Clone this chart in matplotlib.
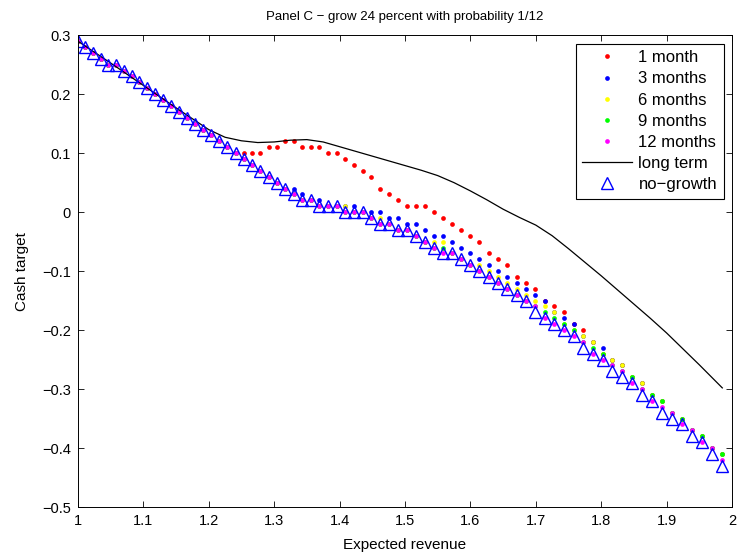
import matplotlib
matplotlib.use("Agg")
import matplotlib.pyplot as plt
from matplotlib.ticker import FuncFormatter

plt.rcParams["font.family"] = ["Liberation Sans", "DejaVu Sans"]
plt.rcParams["font.size"] = 10

# expected revenue grid
x = [1.0000, 1.0116, 1.0232, 1.0349, 1.0466, 1.0584, 1.0703, 1.0821, 1.0941, 1.1060,
     1.1181, 1.1301, 1.1423, 1.1544, 1.1667, 1.1790, 1.1913, 1.2037, 1.2161, 1.2286,
     1.2411, 1.2537, 1.2663, 1.2790, 1.2918, 1.3045, 1.3174, 1.3303, 1.3432, 1.3563,
     1.3693, 1.3824, 1.3956, 1.4088, 1.4221, 1.4354, 1.4488, 1.4623, 1.4758, 1.4893,
     1.5029, 1.5166, 1.5303, 1.5441, 1.5579, 1.5718, 1.5858, 1.5998, 1.6138, 1.6280,
     1.6421, 1.6564, 1.6707, 1.6850, 1.6995, 1.7139, 1.7285, 1.7431, 1.7577, 1.7724,
     1.7872, 1.8021, 1.8170, 1.8319, 1.8469, 1.8620, 1.8772, 1.8924, 1.9077, 1.9230,
     1.9384, 1.9539, 1.9694, 1.9850]

no_growth = [0.29, 0.28, 0.27, 0.26, 0.25, 0.25, 0.24, 0.23, 0.22, 0.21,
             0.20, 0.19, 0.18, 0.17, 0.16, 0.15, 0.14, 0.13, 0.12, 0.11,
             0.10, 0.09, 0.08, 0.07, 0.06, 0.05, 0.04, 0.03, 0.02, 0.02,
             0.01, 0.01, 0.01, 0.00, 0.00, 0.00, -0.01, -0.02, -0.02, -0.03,
             -0.03, -0.04, -0.05, -0.06, -0.07, -0.07, -0.08, -0.09, -0.10, -0.11,
             -0.12, -0.13, -0.14, -0.15, -0.17, -0.18, -0.19, -0.20, -0.21, -0.23,
             -0.24, -0.25, -0.27, -0.28, -0.29, -0.31, -0.32, -0.34, -0.35, -0.36,
             -0.38, -0.39, -0.41, -0.43]

m12 = [0.29, 0.28, 0.27, 0.26, 0.25, 0.25, 0.24, 0.23, 0.22, 0.21,
       0.20, 0.19, 0.18, 0.17, 0.16, 0.15, 0.14, 0.13, 0.12, 0.11,
       0.10, 0.09, 0.08, 0.07, 0.06, 0.05, 0.04, 0.03, 0.02, 0.02,
       0.01, 0.01, 0.01, 0.00, 0.00, 0.00, -0.01, -0.02, -0.02, -0.03,
       -0.03, -0.04, -0.05, -0.06, -0.07, -0.07, -0.08, -0.09, -0.10, -0.11,
       -0.12, -0.13, -0.14, -0.15, -0.16, -0.18, -0.19, -0.20, -0.21, -0.22,
       -0.24, -0.25, -0.26, -0.27, -0.29, -0.30, -0.32, -0.33, -0.34, -0.36,
       -0.37, -0.39, -0.40, -0.42]

m9 = [0.29, 0.28, 0.27, 0.26, 0.25, 0.25, 0.24, 0.23, 0.22, 0.21,
      0.20, 0.19, 0.18, 0.17, 0.16, 0.15, 0.14, 0.13, 0.12, 0.11,
      0.10, 0.09, 0.08, 0.07, 0.06, 0.05, 0.04, 0.03, 0.02, 0.02,
      0.01, 0.01, 0.01, 0.00, 0.00, 0.00, -0.01, -0.02, -0.02, -0.03,
      -0.03, -0.04, -0.05, -0.06, -0.06, -0.07, -0.08, -0.09, -0.10, -0.11,
      -0.12, -0.13, -0.14, -0.15, -0.16, -0.17, -0.18, -0.19, -0.20, -0.22,
      -0.23, -0.24, -0.26, -0.27, -0.28, -0.30, -0.31, -0.32, -0.34, -0.35,
      -0.37, -0.38, -0.40, -0.41]

m6 = [0.29, 0.28, 0.27, 0.26, 0.25, 0.25, 0.24, 0.23, 0.22, 0.21,
      0.20, 0.19, 0.18, 0.17, 0.16, 0.15, 0.14, 0.13, 0.12, 0.11,
      0.10, 0.09, 0.08, 0.07, 0.06, 0.05, 0.04, 0.03, 0.02, 0.02,
      0.01, 0.01, 0.01, 0.01, 0.00, 0.00, -0.01, -0.01, -0.02, -0.03,
      -0.03, -0.04, -0.05, -0.05, -0.05, -0.07, -0.08, -0.09, -0.09, -0.10,
      -0.11, -0.12, -0.13, -0.14, -0.15, -0.16, -0.17, -0.19, -0.20, -0.21,
      -0.22, -0.24, -0.25, -0.26, -0.28, -0.29, -0.31, -0.32, -0.34, -0.35,
      -0.37, -0.38, -0.40, -0.41]

m3 = [0.29, 0.28, 0.27, 0.26, 0.25, 0.25, 0.24, 0.23, 0.22, 0.21,
      0.20, 0.19, 0.18, 0.17, 0.16, 0.15, 0.14, 0.13, 0.12, 0.11,
      0.10, 0.09, 0.08, 0.07, 0.06, 0.05, 0.04, 0.04, 0.03, 0.02,
      0.02, 0.01, 0.01, 0.01, 0.01, 0.00, 0.00, 0.00, -0.01, -0.01,
      -0.02, -0.02, -0.03, -0.04, -0.04, -0.05, -0.06, -0.07, -0.08, -0.09,
      -0.10, -0.11, -0.12, -0.13, -0.14, -0.15, -0.17, -0.18, -0.19, -0.21,
      -0.22, -0.23, -0.25, -0.26, -0.28, -0.29, -0.31, -0.32, -0.34, -0.35,
      -0.37, -0.38, -0.40, -0.41]

m1 = [0.29, 0.28, 0.27, 0.26, 0.25, 0.25, 0.24, 0.23, 0.22, 0.21,
      0.20, 0.19, 0.18, 0.17, 0.16, 0.15, 0.14, 0.13, 0.12, 0.11,
      0.10, 0.10, 0.10, 0.10, 0.11, 0.11, 0.12, 0.12, 0.11, 0.11,
      0.11, 0.10, 0.10, 0.09, 0.08, 0.07, 0.06, 0.04, 0.03, 0.02,
      0.01, 0.01, 0.01, 0.00, -0.01, -0.02, -0.03, -0.04, -0.05, -0.07,
      -0.08, -0.09, -0.11, -0.12, -0.13, -0.15, -0.16, -0.17, -0.19, -0.20,
      -0.22, -0.24, -0.25, -0.26, -0.28, -0.29, -0.31, -0.32, -0.34, -0.35,
      -0.37, -0.38, -0.40, -0.41]

# long term curve
lt_x = [1.0, 1.05, 1.1, 1.15, 1.2, 1.225, 1.25, 1.275, 1.3, 1.325, 1.35, 1.375,
        1.4, 1.425, 1.45, 1.475, 1.5, 1.525, 1.55, 1.575, 1.6, 1.625, 1.65, 1.675,
        1.7, 1.725, 1.75, 1.775, 1.8, 1.825, 1.85, 1.875, 1.9, 1.925, 1.95, 1.985]
lt_y = [0.29, 0.253, 0.215, 0.177, 0.14, 0.127, 0.121, 0.118, 0.119, 0.122, 0.123, 0.119,
        0.111, 0.103, 0.095, 0.087, 0.079, 0.071, 0.062, 0.05, 0.036, 0.021, 0.005, -0.009,
        -0.022, -0.04, -0.062, -0.085, -0.108, -0.132, -0.156, -0.18, -0.205, -0.232, -0.259, -0.298]

fig = plt.figure(figsize=(7.41, 5.59), dpi=100)
ax = fig.add_axes([0.105, 0.093, 0.883, 0.844])

dot = dict(linestyle="none", marker="o", markersize=3.4, markeredgewidth=0)
ax.plot(x, m1, color=(1, 0, 0), label="1 month", **dot)
ax.plot(x, m3, color=(0, 0, 1), label="3 months", **dot)
ax.plot(x, m6, color=(1, 1, 0), label="6 months", **dot)
ax.plot(x, m9, color=(0, 1, 0), label="9 months", **dot)
ax.plot(x, m12, color=(1, 0, 1), label="12 months", **dot)
ax.plot(lt_x, lt_y, color="black", linewidth=0.9, label="long term")
ax.plot(x, no_growth, linestyle="none", marker="^", markersize=9,
        markerfacecolor="none", markeredgecolor=(0, 0, 1), markeredgewidth=1.0,
        label="no\u2212growth")

ax.set_xlim(1, 2)
ax.set_ylim(-0.5, 0.3)
ax.set_xticks([1 + 0.1 * i for i in range(11)])
ax.set_yticks([-0.5 + 0.1 * i for i in range(9)])
fmt = FuncFormatter(lambda v, p: ("%g" % round(v, 2)).replace("-", "\u2212") if abs(v) > 1e-9 else "0")
ax.xaxis.set_major_formatter(fmt)
ax.yaxis.set_major_formatter(fmt)
ax.tick_params(direction="in", top=True, right=True, length=4, width=0.6, labelsize=10.5, pad=5)
for s in ax.spines.values():
    s.set_linewidth(0.7)

ax.set_title("Panel C \u2212 grow 24 percent with probability 1/12", fontsize=9.5, pad=11)
ax.set_xlabel("Expected revenue", fontsize=11, labelpad=7)
ax.set_ylabel("Cash target", fontsize=11, labelpad=9)

leg = ax.legend(loc="upper right", numpoints=1, fancybox=False, edgecolor="black",
                framealpha=1, handlelength=3.0, handletextpad=0.36, labelspacing=0.37,
                borderpad=0.4, borderaxespad=0.5, fontsize=12)
leg.get_frame().set_linewidth(0.8)

plt.savefig("out.png", dpi=100)
